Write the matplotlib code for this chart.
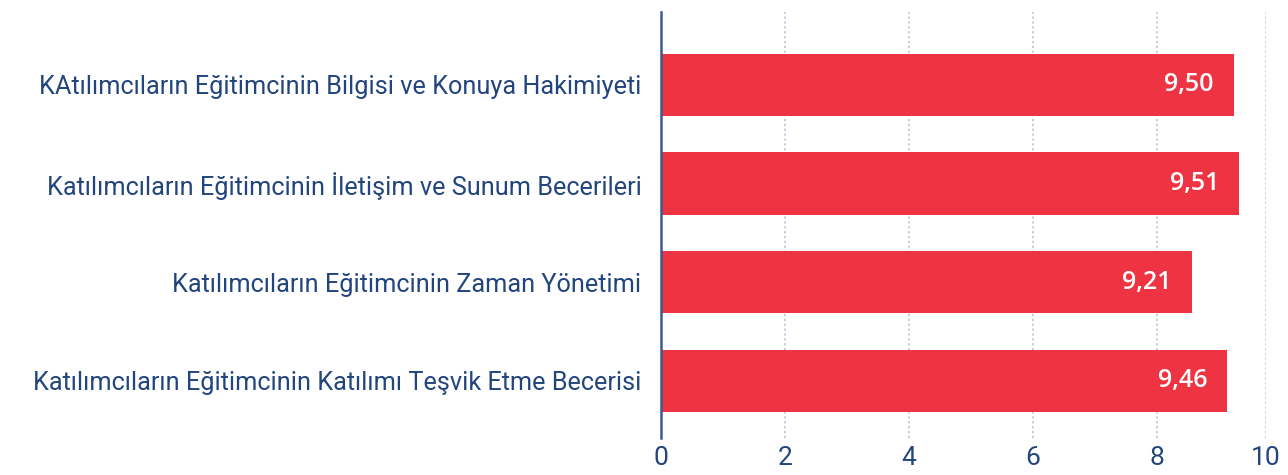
import matplotlib
matplotlib.use('Agg')
import matplotlib.pyplot as plt

# categories (top to bottom) and values as drawn
categories = [
    'KAtılımcıların Eğitimcinin Bilgisi ve Konuya Hakimiyeti',
    'Katılımcıların Eğitimcinin İletişim ve Sunum Becerileri',
    'Katılımcıların Eğitimcinin Zaman Yönetimi',
    'Katılımcıların Eğitimcinin Katılımı Teşvik Etme Becerisi',
]
bar_values = [9.24, 9.33, 8.56, 9.13]
value_labels = ['9,50', '9,51', '9,21', '9,46']
tick_labels = ['0', '2', '4', '6', '8', '10']

BAR_COLOR = '#EE3442'
NAVY = '#22457D'
GRID = '#BFCADB'
X_MAX = 9.76

fig = plt.figure(figsize=(12.88, 4.75), dpi=100)
ax = fig.add_axes([661 / 1288, 1 - 438 / 475, (1266 - 661) / 1288, (438 - 12) / 475])

y = list(range(len(categories)))
ax.barh(y, bar_values, height=0.632, color=BAR_COLOR, zorder=3)

for yi, v, lbl in zip(y, bar_values, value_labels):
    ax.text(v - 0.32, yi, lbl, ha='right', va='center', color='white',
            fontsize=18, fontfamily='Open Sans', fontweight='semibold', zorder=4)

ax.set_xlim(0, X_MAX)
ax.set_ylim(3.58, -0.738)
ax.set_yticks(y)
ax.set_yticklabels(categories, fontsize=18.2, fontfamily='Roboto', color=NAVY)
ax.set_xticks([0, 2, 4, 6, 8, X_MAX])
ax.set_xticklabels(tick_labels, fontsize=19, fontfamily='Roboto', color=NAVY)

ax.tick_params(axis='y', length=0, pad=14)
ax.tick_params(axis='x', length=0, pad=6)
ax.grid(axis='x', color=GRID, linestyle=(0, (1.2, 1.5)), linewidth=1.3, zorder=0)

for side in ['top', 'right', 'bottom']:
    ax.spines[side].set_visible(False)
ax.spines['left'].set_color('#3E5A8C')
ax.spines['left'].set_linewidth(1.8)
ax.spines['left'].set_zorder(5)

fig.savefig('out.png', dpi=100)
